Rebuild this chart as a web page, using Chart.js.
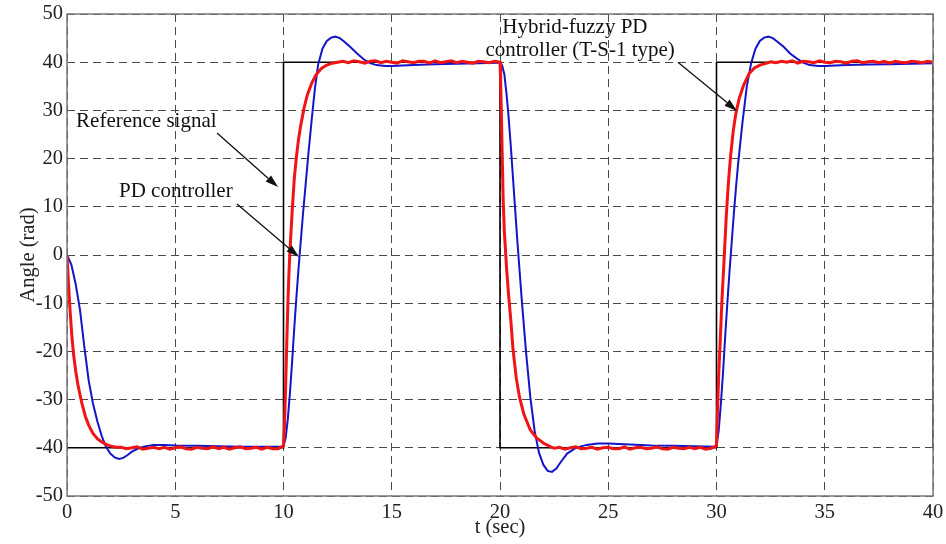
<!DOCTYPE html>
<html>
<head>
<meta charset="utf-8">
<script src="https://cdn.jsdelivr.net/npm/chart.js@4"></script>
<style>
  html, body { margin: 0; padding: 0; background: #fff; }
  #wrap { width: 946px; height: 544px; position: relative; }
</style>
</head>
<body>
<div id="wrap"><canvas id="angleChart" width="946" height="544"></canvas></div>
<script>
// ─── Data ───

// reference square wave (rad)
var refTime = [0, 10, 10, 20, 20, 30, 30, 40, 40];
var refAngle = [-40, -40, 40, 40, -40, -40, 40, 40, -40];

// PD controller response
var pdTime = [
  0, 0.2, 0.4, 0.6, 0.8, 1.0, 1.2, 1.4, 1.6, 1.8, 2.0, 2.2, 2.4, 2.6, 2.8, 3.0, 3.3, 3.6, 4.0, 4.5, 5, 6, 7, 8, 9, 9.9,
  10.0, 10.1, 10.2, 10.3, 10.4, 10.5, 10.6, 10.7, 10.8, 10.9, 11.0, 11.15, 11.3, 11.45, 11.6, 11.8, 12.0, 12.2, 12.4, 12.6, 12.8,
  13.1, 13.4, 13.7, 14.0, 14.3, 14.7, 15, 16, 17, 18, 19, 19.9,
  20.0, 20.1, 20.2, 20.3, 20.4, 20.5, 20.6, 20.7, 20.8, 20.9, 21.0, 21.2, 21.4, 21.6, 21.8, 22.0, 22.2, 22.4, 22.6, 22.8,
  23.1, 23.5, 24.0, 24.5, 25, 26, 27, 28, 29, 29.9,
  30.0, 30.1, 30.2, 30.3, 30.4, 30.5, 30.6, 30.7, 30.8, 30.9, 31.0, 31.2, 31.4, 31.6, 31.8, 32.0, 32.2, 32.4, 32.6, 32.8,
  33.1, 33.4, 33.7, 34.0, 34.3, 34.7, 35, 36, 37, 38, 39, 40
];
var pdAngle = [
  0, -2, -6, -11.4, -19, -26, -30.8, -34.5, -37.5, -39.8, -41.2, -42, -42.3, -42.1, -41.5, -40.8, -40.1, -39.7, -39.4, -39.4, -39.5, -39.6, -39.7, -39.8, -39.8, -39.8,
  -39.6, -38, -34, -28.5, -22, -15, -8.5, -2.5, 3, 8.5, 13.5, 21, 28, 34.5, 39.5, 42.8, 44.4, 45.1, 45.3, 45, 44.3,
  43.1, 41.8, 40.6, 39.8, 39.4, 39.2, 39.2, 39.4, 39.6, 39.7, 39.8, 39.9,
  40, 39.3, 37.5, 33.5, 28.5, 22.5, 16, 9.5, 3, -3, -9, -20, -29.5, -36.5, -41, -43.5, -44.8, -45, -44.3, -43,
  -41.2, -40, -39.4, -39.1, -39.1, -39.3, -39.5, -39.6, -39.7, -39.8,
  -39.5, -36.5, -31, -24.5, -17, -10, -3.5, 2.5, 8.5, 14, 19, 27.5, 35, 39.8, 42.8, 44.4, 45.1, 45.3, 45, 44.3,
  43.2, 41.8, 40.8, 39.9, 39.4, 39.2, 39.2, 39.4, 39.5, 39.6, 39.7, 39.8
];

// Hybrid-fuzzy PD controller (T-S-1 type) response
var hybridTime = [
  0, 0.07, 0.14, 0.22, 0.3, 0.4, 0.5, 0.6, 0.7, 0.85, 1.0, 1.2, 1.4, 1.6, 1.8, 2.0, 2.25,
  2.5, 2.75, 3, 3.25, 3.5, 3.75, 4, 4.25, 4.5, 4.75, 5, 5.25, 5.5, 5.75, 6, 6.25, 6.5, 6.75, 7, 7.25, 7.5, 7.75, 8, 8.25, 8.5, 8.75, 9, 9.25, 9.5, 9.75,
  10.0, 10.05, 10.1, 10.15, 10.2, 10.25, 10.3, 10.4, 10.5, 10.6, 10.7, 10.8, 10.95, 11.1, 11.3, 11.5, 11.75, 12.0, 12.25,
  12.5, 12.75, 13, 13.25, 13.5, 13.75, 14, 14.25, 14.5, 14.75, 15, 15.25, 15.5, 15.75, 16, 16.25, 16.5, 16.75, 17, 17.25, 17.5, 17.75, 18, 18.25, 18.5, 18.75, 19, 19.25, 19.5, 19.75,
  20.0, 20.03, 20.07, 20.11, 20.15, 20.2, 20.3, 20.4, 20.5, 20.6, 20.75, 20.9, 21.1, 21.4, 21.7, 22.0, 22.25,
  22.5, 22.75, 23, 23.25, 23.5, 23.75, 24, 24.25, 24.5, 24.75, 25, 25.25, 25.5, 25.75, 26, 26.25, 26.5, 26.75, 27, 27.25, 27.5, 27.75, 28, 28.25, 28.5, 28.75, 29, 29.25, 29.5, 29.75,
  30.0, 30.05, 30.1, 30.16, 30.25, 30.35, 30.45, 30.55, 30.65, 30.78, 30.9, 31.05, 31.25, 31.5, 31.75, 32.0, 32.25,
  32.5, 32.75, 33, 33.25, 33.5, 33.75, 34, 34.25, 34.5, 34.75, 35, 35.25, 35.5, 35.75, 36, 36.25, 36.5, 36.75, 37, 37.25, 37.5, 37.75, 38, 38.25, 38.5, 38.75, 39, 39.25, 39.5, 39.75, 40
];
var hybridAngle = [
  0, -6, -11.4, -16.5, -20.5, -24, -26.8, -29, -31, -33.5, -35.3, -37, -38.1, -38.8, -39.3, -39.6, -39.9,
  -39.9, -40.2, -40.0, -39.8, -40.3, -40.1, -39.9, -40.2, -39.9, -40.3, -40.0, -39.8, -40.2, -40.3, -39.9, -40.1, -40.2, -39.8, -40.2, -39.9, -40.3, -40.0, -39.8, -40.2, -40.1, -39.9, -40.3, -39.9, -40.2, -40.2,
  -39.6, -35, -27, -18.5, -10.5, -4, 1, 9, 16, 20.5, 24.2, 27, 30.5, 33.2, 35.6, 37.4, 38.7, 39.4, 39.8,
  40.0, 40.2, 39.9, 40.3, 40.1, 39.8, 40.2, 40.3, 39.9, 40.2, 40.0, 39.8, 40.3, 40.1, 39.9, 40.2, 40.2, 39.8, 40.3, 39.9, 40.1, 40.3, 39.9, 40.2, 40.0, 39.8, 40.2, 40.1, 39.9, 40.2,
  40, 36, 28, 19, 11, 5, -2.5, -8.5, -13.5, -19.5, -25.5, -29.5, -33, -36.3, -38, -39, -39.6,
  -40.1, -39.9, -40.3, -40.0, -39.8, -40.2, -40.1, -39.9, -40.3, -40.0, -39.9, -40.2, -40.2, -39.8, -40.3, -40.0, -39.9, -40.2, -40.1, -39.8, -40.2, -40.3, -39.9, -40.1, -40.2, -39.9, -40.2, -39.9, -40.3, -40.1,
  -39.6, -32, -25, -19, -9.5, -1, 8, 15, 20.5, 26, 29.5, 32.5, 35.2, 37.6, 38.8, 39.4, 39.7,
  40.1, 39.9, 40.2, 40.0, 40.3, 39.8, 40.2, 40.1, 39.9, 40.3, 40.0, 39.9, 40.2, 40.1, 39.8, 40.2, 40.3, 39.9, 40.1, 40.2, 39.9, 40.2, 39.8, 40.2, 40.0, 39.9, 40.2, 40.1, 39.9, 40.2, 40.0
];

// annotations (data coordinates)
var noteText = ["Reference signal", "PD controller", "Hybrid-fuzzy PD", "controller (T-S-1 type)"];
var noteX = [0.42, 2.4, 23.46, 23.7];
var noteY = [27.6, 13.1, 47.3, 42.5];
var noteAlign = ["left", "left", "center", "center"];

var arrowFrom = [[6.93, 25.3], [7.85, 10.6], [28.22, 40.0]];
var arrowTo = [[9.75, 14.1], [10.72, -0.4], [30.95, 29.9]];

// ─── Helpers ───

function toPoints(xs, ys) {
  return xs.map(function (x, i) { return { x: x, y: ys[i] }; });
}

var serif = "'Liberation Serif', 'Times New Roman', serif";

var framePlugin = {
  id: "frameAndNotes",
  afterDraw: function (chart) {
    var ctx = chart.ctx;
    var a = chart.chartArea;
    var xs = chart.scales.x;
    var ys = chart.scales.y;
    ctx.save();

    // plot frame
    ctx.strokeStyle = "#7a7a7a";
    ctx.lineWidth = 1.5;
    ctx.setLineDash([]);
    ctx.strokeRect(a.left, a.top, a.right - a.left, a.bottom - a.top);

    // text notes
    ctx.fillStyle = "#111";
    ctx.font = "21px " + serif;
    ctx.textBaseline = "middle";
    for (var i = 0; i < noteText.length; i++) {
      ctx.textAlign = noteAlign[i];
      ctx.fillText(noteText[i], xs.getPixelForValue(noteX[i]), ys.getPixelForValue(noteY[i]));
    }

    // arrows
    ctx.strokeStyle = "#111";
    ctx.lineWidth = 1.3;
    for (var j = 0; j < arrowFrom.length; j++) {
      var x1 = xs.getPixelForValue(arrowFrom[j][0]);
      var y1 = ys.getPixelForValue(arrowFrom[j][1]);
      var x2 = xs.getPixelForValue(arrowTo[j][0]);
      var y2 = ys.getPixelForValue(arrowTo[j][1]);
      var ang = Math.atan2(y2 - y1, x2 - x1);
      var len = 13, half = 4;
      var bx = x2 - len * Math.cos(ang);
      var by = y2 - len * Math.sin(ang);
      ctx.beginPath();
      ctx.moveTo(x1, y1);
      ctx.lineTo(bx, by);
      ctx.stroke();
      ctx.beginPath();
      ctx.moveTo(x2, y2);
      ctx.lineTo(bx + half * Math.sin(ang), by - half * Math.cos(ang));
      ctx.lineTo(bx - half * Math.sin(ang), by + half * Math.cos(ang));
      ctx.closePath();
      ctx.fill();
    }
    ctx.restore();
  },
};

// ─── Chart ───

new Chart(document.getElementById("angleChart"), {
  type: "line",
  data: {
    datasets: [
      {
        label: "Hybrid-fuzzy PD",
        data: toPoints(hybridTime, hybridAngle),
        borderColor: "#f01414",
        borderWidth: 3,
        pointRadius: 0,
        tension: 0,
        order: 0,
      },
      {
        label: "PD controller",
        data: toPoints(pdTime, pdAngle),
        borderColor: "#1414c8",
        borderWidth: 2,
        pointRadius: 0,
        tension: 0,
        order: 1,
      },
      {
        label: "Reference signal",
        data: toPoints(refTime, refAngle),
        borderColor: "#000",
        borderWidth: 1.6,
        pointRadius: 0,
        tension: 0,
        order: 2,
      },
    ],
  },
  options: {
    responsive: false,
    animation: false,
    layout: { padding: { top: 14, right: 13, left: 0, bottom: 0 } },
    plugins: {
      legend: { display: false },
      tooltip: { enabled: false },
    },
    scales: {
      x: {
        type: "linear",
        min: 0,
        max: 40,
        afterFit: function (s) {
          s.height = 48;
          s.paddingLeft = 0;
          s.paddingRight = 0;
        },
        ticks: { stepSize: 5, padding: 4, color: "#222", font: { family: serif, size: 20.5 }, maxRotation: 0 },
        grid: { color: "#4a4a4a", lineWidth: 1, drawTicks: false },
        border: { display: false, dash: [8, 5] },
        title: { display: true, text: "t (sec)", color: "#222", font: { family: serif, size: 20.5 }, padding: { top: 0, bottom: 4 } },
      },
      y: {
        min: -50,
        max: 50,
        afterFit: function (s) {
          s.width = 67;
          s.paddingTop = 0;
          s.paddingBottom = 0;
        },
        ticks: { stepSize: 10, padding: 4, color: "#222", font: { family: serif, size: 20.5 } },
        grid: { color: "#4a4a4a", lineWidth: 1, drawTicks: false },
        border: { display: false, dash: [8, 5] },
        title: { display: true, text: "Angle (rad)", color: "#222", font: { family: serif, size: 20.5 }, padding: { top: 16, bottom: 0 } },
      },
    },
  },
  plugins: [framePlugin],
});
</script>
</body>
</html>
